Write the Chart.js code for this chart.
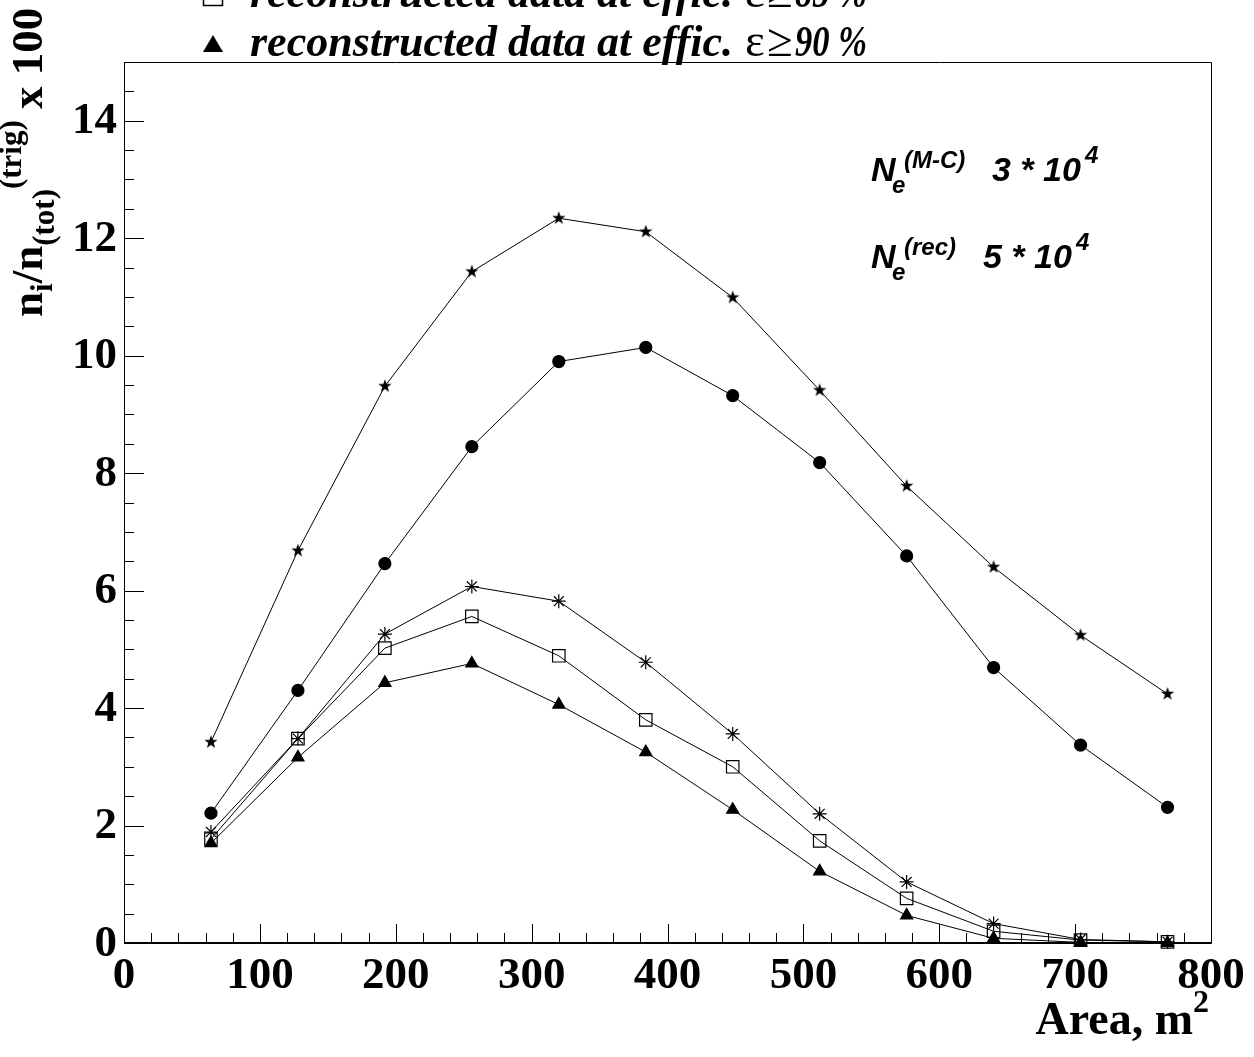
<!DOCTYPE html>
<html>
<head>
<meta charset="utf-8">
<script src="https://cdn.jsdelivr.net/npm/chart.js@4.4.0/dist/chart.umd.min.js"></script>
<style>
  html, body { margin: 0; padding: 0; background: #ffffff; }
  #wrap { width: 1254px; height: 1057px; position: relative; }
</style>
</head>
<body>
<div id="wrap"><canvas id="c" width="1254" height="1057"></canvas></div>
<script>
// Detector area (m^2) for each point
const areas = [64, 128, 192, 256, 320, 384, 448, 512, 576, 640, 704, 768];

// n_i / n_tot(trig) x 100 for each series
const starVals     = [3.42, 6.68, 9.48, 11.43, 12.34, 12.11, 10.99, 9.41, 7.78, 6.40, 5.24, 4.24];
const circleVals   = [2.21, 4.30, 6.46, 8.45, 9.90, 10.14, 9.32, 8.18, 6.59, 4.69, 3.37, 2.31];
const asteriskVals = [1.89, 3.48, 5.26, 6.07, 5.82, 4.78, 3.56, 2.20, 1.04, 0.33, 0.06, 0.02];
const squareVals   = [1.77, 3.48, 5.02, 5.56, 4.89, 3.80, 3.00, 1.74, 0.76, 0.20, 0.05, 0.02];
const triangleVals = [1.70, 3.16, 4.43, 4.76, 4.06, 3.25, 2.27, 1.22, 0.47, 0.08, 0.01, 0.00];

// Axis ticks
const xTickValues = [0, 100, 200, 300, 400, 500, 600, 700, 800];
const xTickLabels = ['0', '100', '200', '300', '400', '500', '600', '700', '800'];
const yTickValues = [0, 2, 4, 6, 8, 10, 12, 14];
const yTickLabels = ['0', '2', '4', '6', '8', '10', '12', '14'];

const SERIF = '"Liberation Serif", "Times New Roman", serif';
const SANS = '"Liberation Sans", Arial, sans-serif';

// filled five-pointed star used as a point style
function makeStar(rOut, rIn) {
  const s = Math.ceil(rOut * 2 + 2);
  const cv = document.createElement('canvas');
  cv.width = s; cv.height = s;
  const g = cv.getContext('2d');
  g.fillStyle = '#000';
  g.beginPath();
  for (let k = 0; k < 10; k++) {
    const r = k % 2 === 0 ? rOut : rIn;
    const a = -Math.PI / 2 + k * Math.PI / 5;
    const px = s / 2 + r * Math.cos(a), py = s / 2 + r * Math.sin(a);
    if (k === 0) g.moveTo(px, py); else g.lineTo(px, py);
  }
  g.closePath();
  g.fill();
  return cv;
}
const starImg = makeStar(7, 2.8);

function pts(vals) { return areas.map((a, i) => ({ x: a, y: vals[i] })); }

function series(label, vals, style, radius, fill) {
  return {
    label: label,
    data: pts(vals),
    borderColor: '#000',
    borderWidth: 1,
    pointStyle: style,
    pointRadius: radius,
    pointBorderColor: '#000',
    pointBorderWidth: 1.2,
    pointBackgroundColor: fill ? '#000' : 'rgba(0,0,0,0)',
    tension: 0,
    clip: false
  };
}

// draw a run of text pieces with individual fonts and baseline shifts
function drawRuns(ctx, x, y, runs) {
  let cx = x;
  for (const r of runs) {
    ctx.font = r.f;
    if (r.at !== undefined) cx = x + r.at;
    if (r.w) {
      ctx.fillText(r.t, cx, y + (r.dy || 0), r.w);
      cx += Math.min(r.w, ctx.measureText(r.t).width);
    } else {
      ctx.fillText(r.t, cx, y + (r.dy || 0));
      cx += ctx.measureText(r.t).width;
    }
  }
  return cx;
}

const framePlugin = {
  id: 'frame',
  afterDatasetsDraw(chart) {
    const ctx = chart.ctx;
    const xs = chart.scales.x, ys = chart.scales.y;
    const L = xs.getPixelForValue(0), R = xs.getPixelForValue(800);
    const B = ys.getPixelForValue(0), T = ys.getPixelForValue(15);
    ctx.save();
    ctx.strokeStyle = '#000';
    ctx.lineWidth = 1;
    ctx.beginPath();
    ctx.rect(Math.round(L) + 0.5, Math.round(T) + 0.5, Math.round(R - L), Math.round(B - T));
    ctx.stroke();
    ctx.lineWidth = 2;
    ctx.beginPath();
    ctx.moveTo(L, Math.round(B)); ctx.lineTo(R, Math.round(B));
    ctx.stroke();

    // y ticks: major every 2, minor every 0.5
    ctx.lineWidth = 1;
    ctx.beginPath();
    for (let v = 0; v <= 15.001; v += 0.5) {
      const py = Math.round(ys.getPixelForValue(v)) + 0.5;
      const major = Math.abs(v / 2 - Math.round(v / 2)) < 1e-6;
      ctx.moveTo(L, py); ctx.lineTo(L + (major ? 20 : 10), py);
    }
    // x ticks: major every 100, minor every 20
    for (let v = 0; v <= 800; v += 20) {
      const px = Math.round(xs.getPixelForValue(v)) + 0.5;
      const major = v % 100 === 0;
      ctx.moveTo(px, B); ctx.lineTo(px, B - (major ? 19 : 10));
    }
    ctx.stroke();

    // tick labels
    ctx.fillStyle = '#000';
    ctx.font = 'bold 45px ' + SERIF;
    ctx.textAlign = 'right';
    ctx.textBaseline = 'middle';
    yTickValues.forEach((v, i) => {
      ctx.fillText(yTickLabels[i], L - 7, ys.getPixelForValue(v) + 1);
    });
    ctx.textAlign = 'center';
    ctx.textBaseline = 'alphabetic';
    xTickValues.forEach((v, i) => {
      ctx.fillText(xTickLabels[i], xs.getPixelForValue(v), B + 45);
    });

    // x axis title
    ctx.textAlign = 'left';
    const big = 'bold 46px ' + SERIF, small = 'bold 32px ' + SERIF;
    ctx.font = big;
    const wMain = ctx.measureText('Area, m').width;
    ctx.font = small;
    const wSup = ctx.measureText('2').width;
    drawRuns(ctx, R - 2 - wMain - wSup, 1034, [
      { t: 'Area, m', f: big },
      { t: '2', f: small, dy: -22 }
    ]);

    // y axis title (rotated)
    ctx.save();
    ctx.translate(42, 317);
    ctx.rotate(-Math.PI / 2);
    const yb = 'bold 45px ' + SERIF, ys2 = 'bold 31px ' + SERIF;
    drawRuns(ctx, 0, 0, [
      { t: 'n', f: yb },
      { t: 'i', f: ys2, dy: 10 },
      { t: '/n', f: yb },
      { t: '(tot)', f: ys2, dy: 12 },
      { t: '(trig)', f: ys2, dy: -21 },
      { t: ' x 100', f: yb }
    ]);
    ctx.restore();

    // annotations
    const nb = 'italic bold 34px ' + SANS, ns = 'italic bold 24px ' + SANS;
    ctx.font = nb; ctx.fillText('N', 871, 181);
    ctx.font = ns; ctx.fillText('e', 892, 193); ctx.fillText('(M-C)', 904, 168);
    ctx.font = nb; ctx.fillText('3 * 10', 992, 181);
    ctx.font = ns; ctx.fillText('4', 1085, 163);

    ctx.font = nb; ctx.fillText('N', 871, 268);
    ctx.font = ns; ctx.fillText('e', 892, 280); ctx.fillText('(rec)', 904, 255);
    ctx.font = nb; ctx.fillText('5 * 10', 983, 268);
    ctx.font = ns; ctx.fillText('4', 1076, 250);

    // legend rows
    const lt = 'italic bold 44px ' + SERIF, lg = '47px ' + SERIF;
    ctx.lineWidth = 1.5;
    ctx.strokeRect(203.5, -13.5, 19, 19);
    drawRuns(ctx, 250, 7, [
      { t: 'reconstructed data at effic.', f: lt },
      { t: '\u03b5', f: lg, at: 495 },
      { t: '\u2265', f: lg, at: 517 },
      { t: '85 %', f: lt, at: 545, w: 72 }
    ]);
    ctx.beginPath();
    ctx.moveTo(213, 35); ctx.lineTo(223, 52); ctx.lineTo(203, 52); ctx.closePath();
    ctx.fill();
    drawRuns(ctx, 250, 56, [
      { t: 'reconstructed data at effic.', f: lt },
      { t: '\u03b5', f: lg, at: 495 },
      { t: '\u2265', f: lg, at: 517 },
      { t: '90 %', f: lt, at: 545, w: 72 }
    ]);
    ctx.restore();
  }
};

new Chart(document.getElementById('c'), {
  type: 'line',
  data: {
    datasets: [
      series('M-C data', starVals, starImg, 7, true),
      series('reconstructed data', circleVals, 'circle', 6, true),
      series('reconstructed data at effic. \u03b5 \u2265 80 %', asteriskVals, 'star', 7, false),
      series('reconstructed data at effic. \u03b5 \u2265 85 %', squareVals, 'rect', 8.8, false),
      series('reconstructed data at effic. \u03b5 \u2265 90 %', triangleVals, 'triangle', 7, true)
    ]
  },
  options: {
    responsive: false,
    animation: false,
    devicePixelRatio: 1,
    layout: { padding: { left: 124, right: 43, top: 62, bottom: 114 } },
    plugins: { legend: { display: false }, tooltip: { enabled: false } },
    scales: {
      x: { type: 'linear', min: 0, max: 800, display: false },
      y: { type: 'linear', min: 0, max: 15, display: false }
    }
  },
  plugins: [framePlugin]
});
</script>
</body>
</html>
